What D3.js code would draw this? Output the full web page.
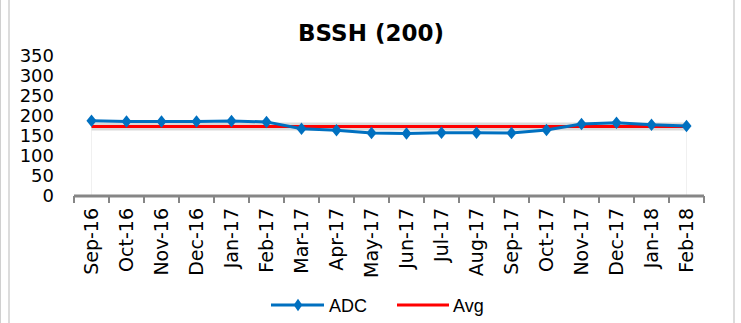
<!DOCTYPE html>
<html><head><meta charset="utf-8">
<script src="https://cdn.jsdelivr.net/npm/d3@7"></script>
<style>body{margin:0;background:#fff}svg{display:block}</style>
</head><body><svg id="c" width="741" height="323"></svg>
<script>
const categories = ["Sep-16","Oct-16","Nov-16","Dec-16","Jan-17","Feb-17","Mar-17","Apr-17","May-17","Jun-17","Jul-17","Aug-17","Sep-17","Oct-17","Nov-17","Dec-17","Jan-18","Feb-18"];
const adc = [187,185,185,185,186,184,167,163,156,155,157,157,156,164,179,182,177,174];
const avg = [172.5,172.5,172.5,172.5,172.5,172.5,172.5,172.5,172.5,172.5,172.5,172.5,172.5,172.5,172.5,172.5,172.5,172.5];
const yTicks = [0,50,100,150,200,250,300,350];
const seriesNames = ["ADC","Avg"];
const titleText = "BSSH (200)";

const svg = d3.select("#c");
const font = "'DejaVu Sans', Verdana, sans-serif";

// frame lines
svg.append("rect").attr("x",0).attr("y",0).attr("width",1).attr("height",323).attr("fill","#d0d0d0");
svg.append("rect").attr("x",8).attr("y",0).attr("width",2).attr("height",323).attr("fill","#dcdcdc");
svg.append("rect").attr("x",733).attr("y",0).attr("width",2).attr("height",323).attr("fill","#dcdcdc");

const x = d3.scaleBand().domain(categories).range([74,704]);
const y = d3.scaleLinear().domain([0,350]).range([195.5,55.5]);
const cx = d => x(d) + x.bandwidth()/2;

// title
svg.append("text").attr("x",371).attr("y",41).attr("text-anchor","middle")
  .attr("font-family",font).attr("font-weight","bold").attr("font-size",23).attr("fill","#000").text(titleText);

// y axis labels
const yAxis = d3.axisLeft(y).tickValues(yTicks).tickSize(0).tickPadding(0);
const gy = svg.append("g").attr("transform","translate(54,0)").call(yAxis);
gy.select(".domain").remove();
gy.selectAll("text").attr("font-family",font).attr("font-size",18).attr("fill","#000").attr("dy","0.36em");

// faint drop lines at ends
[categories[0], categories[categories.length-1]].forEach(c=>{
  svg.append("line").attr("x1",cx(c)).attr("x2",cx(c)).attr("y1",y(avg[0])).attr("y2",y(0))
    .attr("stroke","#f0f0f0").attr("stroke-width",1);
});

// x axis
const xAxis = d3.axisBottom(x).tickSize(0).tickFormat(d=>d);
const gx = svg.append("g").attr("transform",`translate(0,${y(0)+0.5})`).call(xAxis);
gx.select(".domain").attr("stroke","#868686").attr("stroke-width",3).attr("d","M74,0H704");
gx.selectAll(".tick line").remove();
const bounds = categories.map(c=>x(c)).concat([x(categories[categories.length-1])+x.bandwidth()]);
gx.selectAll("line.bt").data(bounds).enter().append("line").attr("class","bt")
  .attr("x1",d=>d).attr("x2",d=>d).attr("y1",0).attr("y2",7).attr("stroke","#868686").attr("stroke-width",2);
gx.selectAll(".tick text").attr("font-family",font).attr("font-size",19).attr("fill","#000")
  .attr("text-anchor","end").attr("transform","rotate(-90)").attr("x",-12).attr("y",0).attr("dy","0.36em");

// avg band + line
const lineGen = d3.line().x((d,i)=>cx(categories[i])).y(d=>y(d));
svg.append("path").datum(avg).attr("d",lineGen).attr("fill","none").attr("stroke","#d9d9d9").attr("stroke-width",8);
svg.append("path").datum(avg).attr("d",lineGen).attr("fill","none").attr("stroke","#ff0000").attr("stroke-width",3);

// adc line
svg.append("path").datum(adc).attr("d",lineGen).attr("fill","none").attr("stroke","#0070c0").attr("stroke-width",3);
const diamond = d3.symbol().type(d3.symbolDiamond).size(45);
svg.selectAll("path.m").data(adc).enter().append("path").attr("class","m")
  .attr("d",diamond).attr("transform",(d,i)=>`translate(${cx(categories[i])},${y(d)}) scale(1.4,1)`).attr("fill","#0070c0");

// legend
const lg = svg.append("g");
lg.append("line").attr("x1",271).attr("x2",324).attr("y1",305).attr("y2",305).attr("stroke","#0070c0").attr("stroke-width",3);
lg.append("path").attr("d",diamond).attr("transform","translate(298,305) scale(1.2,1)").attr("fill","#0070c0");
lg.append("text").attr("x",329).attr("y",311.5).attr("font-family","'Liberation Sans', Arial, sans-serif").attr("font-size",18).text(seriesNames[0]);
lg.append("line").attr("x1",397).attr("x2",449).attr("y1",305).attr("y2",305).attr("stroke","#ff0000").attr("stroke-width",3);
lg.append("text").attr("x",453).attr("y",311.5).attr("font-family","'Liberation Sans', Arial, sans-serif").attr("font-size",18).text(seriesNames[1]);
</script></body></html>
